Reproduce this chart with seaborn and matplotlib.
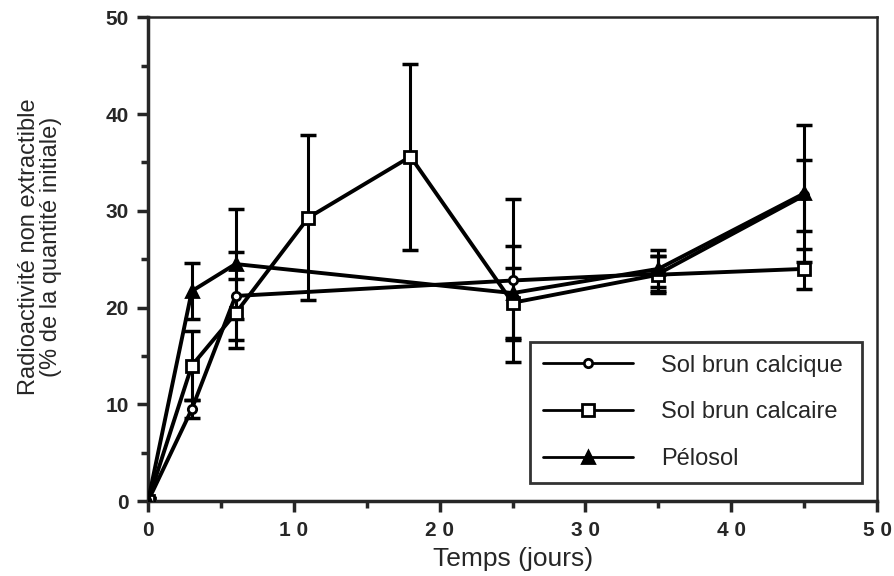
import matplotlib
matplotlib.use("Agg")
import matplotlib.pyplot as plt
from matplotlib.ticker import MultipleLocator
import seaborn as sns
import pandas as pd

# time points (jours)
t_short = [0, 3, 6, 25, 35, 45]
t_long = [0, 3, 6, 11, 18, 25, 35, 45]

# Sol brun calcique (circles)
calcique = [0, 9.5, 21.2, 22.8, 23.5, 31.6]
calcique_err = [0.3, 0.9, 4.5, 8.4, 1.8, 3.7]

# Sol brun calcaire (squares)
calcaire = [0, 14.0, 19.4, 29.3, 35.6, 20.5, 23.4, 24.0]
calcaire_err = [0.3, 3.6, 3.6, 8.5, 9.6, 3.6, 1.9, 2.1]

# Pelosol (triangles)
pelosol = [0, 21.7, 24.5, 21.5, 24.0, 31.8]
pelosol_err = [0.3, 2.9, 5.7, 4.9, 1.9, 7.1]

sns.set_style("ticks")
plt.rcParams['font.family'] = ['Liberation Sans', 'DejaVu Sans']

fig = plt.figure(figsize=(8.95, 5.76), dpi=100)
ax = fig.add_axes([0.1654, 0.130, 0.8146, 0.840])

series = [
    ("Sol brun calcique", t_short, calcique, calcique_err, "o", 6, "white"),
    ("Sol brun calcaire", t_long, calcaire, calcaire_err, "s", 8, "white"),
    ("Pélosol", t_short, pelosol, pelosol_err, "^", 8, "black"),
]

for name, t, y, err, mk, ms, fc in series:
    df = pd.DataFrame({"t": t, "y": y})
    ax.errorbar(t, y, yerr=err, fmt="none", ecolor="black",
                elinewidth=2.2, capsize=6, capthick=2.5, zorder=2)
    sns.lineplot(data=df, x="t", y="y", ax=ax, color="black", lw=2.8,
                 marker=mk, markersize=ms, markerfacecolor=fc,
                 markeredgecolor="black", markeredgewidth=2,
                 label=name, zorder=3)

ax.set_xlim(0, 50)
ax.set_ylim(0, 50)
ax.xaxis.set_minor_locator(MultipleLocator(5))
ax.yaxis.set_major_locator(MultipleLocator(10))
ax.yaxis.set_minor_locator(MultipleLocator(5))
ax.set_xticks([0, 10, 20, 30, 40, 50])
ax.set_xticklabels(["0", "1 0", "2 0", "3 0", "4 0", "5 0"])

for side in ["left", "bottom"]:
    ax.spines[side].set_linewidth(2.5)
for side in ["top", "right"]:
    ax.spines[side].set_linewidth(1.8)
ax.tick_params(which="major", length=8, width=2.5, pad=6)
ax.tick_params(which="minor", length=5, width=2.5)
plt.setp(ax.get_xticklabels() + ax.get_yticklabels(),
         fontsize=15, fontweight="bold")

ax.set_xlabel("Temps (jours)", fontsize=19, labelpad=5)
ax.set_ylabel("Radioactivité non extractible\n(% de la quantité initiale)",
              fontsize=17, linespacing=1.0)
ax.yaxis.set_label_coords(-0.118, 0.525)

leg = ax.legend(loc="lower left", bbox_to_anchor=(0.524, 0.037, 0.455, 0.289),
                mode="expand", frameon=True, fancybox=False, fontsize=17,
                handlelength=3.8, handletextpad=1.2, labelspacing=1.05,
                borderpad=0.55, numpoints=1, borderaxespad=0)
leg.get_frame().set_edgecolor("black")
leg.get_frame().set_linewidth(2)
for h in leg.get_lines():
    h.set_linewidth(2)

fig.savefig("out.png", dpi=100)
